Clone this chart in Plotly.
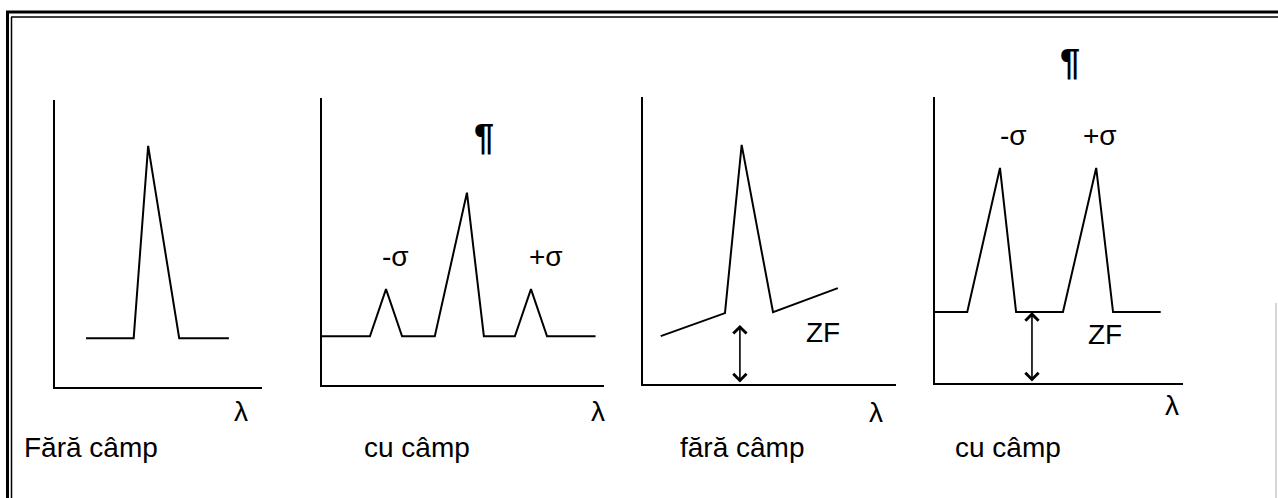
import plotly.graph_objects as go

W, H = 1278, 498
FONT = "Liberation Sans, Arial, sans-serif"
FS = 28

# --- spectral profiles (lambda in %, intensity in %) ---
p1_lambda = [15, 38, 45, 60, 84]
p1_intensity = [17, 17, 84, 17, 17]

p2_lambda = [0, 17, 22.7, 28.4, 40, 51.4, 57.4, 68.4, 74.1, 79.8, 97]
p2_intensity = [17, 17, 33.4, 17, 17, 67, 17, 17, 33.4, 17, 17]

p3_lambda = [7, 32.4, 39, 51.4, 77]
p3_intensity = [16.7, 24.7, 83.3, 25, 33.4]

p4_lambda = [0, 13, 26.2, 32.7, 51.6, 65, 71.8, 91]
p4_intensity = [24.8, 24.8, 75.2, 24.8, 24.8, 75.2, 24.8, 24.8]

# zero-field offset arrows: (lambda, top intensity)
zf3 = (38.3, 20.6)
zf4 = (39.1, 24.8)

panel_titles = ["Fără câmp", "cu câmp", "fără câmp", "cu câmp"]

# panel frames in pixels: (x_left, x_right, y_bottom, y_top)
frames = [
    (55, 262, 387, 100),
    (322, 604, 385, 98),
    (643, 896, 384, 97),
    (935, 1183, 383, 97),
]


def px_x(px):
    return px / W


def px_y(py):
    return 1 - py / H


def to_paper(idx, lam, inten):
    """Map a (lambda, intensity) pair of panel idx to paper coordinates."""
    xl, xr, yb, yt = frames[idx - 1]
    return (px_x(xl + (xr - xl) * lam / 100.0),
            px_y(yb - (yb - yt) * inten / 100.0))


fig = go.Figure()

profiles = [(p1_lambda, p1_intensity), (p2_lambda, p2_intensity),
            (p3_lambda, p3_intensity), (p4_lambda, p4_intensity)]

for i, ((lam, inten), (xl, xr, yb, yt)) in enumerate(zip(profiles, frames), start=1):
    sfx = "" if i == 1 else str(i)
    fig.add_trace(go.Scatter(
        x=lam, y=inten, mode="lines",
        line=dict(color="black", width=2),
        xaxis="x" + sfx, yaxis="y" + sfx,
        showlegend=False, hoverinfo="skip",
    ))
    axis_style = dict(showline=True, linecolor="black", linewidth=2,
                      showgrid=False, zeroline=False, showticklabels=False,
                      ticks="", range=[0, 100], fixedrange=True)
    fig.update_layout(**{
        "xaxis" + sfx: dict(axis_style, domain=[px_x(xl), px_x(xr)],
                            anchor="y" + sfx),
        "yaxis" + sfx: dict(axis_style, domain=[px_y(yb), px_y(yt)],
                            anchor="x" + sfx),
    })

annotations = []


def label(text, lam, inten, idx, size=FS, bold=False):
    x, y = to_paper(idx, lam, inten)
    annotations.append(dict(
        text="<b>%s</b>" % text if bold else text,
        x=x, y=y, xref="paper", yref="paper",
        showarrow=False, xanchor="center", yanchor="middle",
        font=dict(family=FONT, size=size, color="black"),
    ))


# wavelength symbol under each axis
lambda_pos = [(89.9, -8.7), (97.9, -9.4), (92.1, -9.8), (95.6, -8.0)]
for i, (lx, ly) in enumerate(lambda_pos, start=1):
    label("λ", lx, ly, i)

# component labels
label("¶", 57.4, 86.1, 2, 36, bold=True)
label("-σ", 25.9, 44.6, 2)
label("+σ", 79.4, 44.6, 2)
label("ZF", 71.1, 17.8, 3)
label("¶", 54.4, 111.9, 4, 36, bold=True)
label("-σ", 31.5, 86.4, 4)
label("+σ", 66.5, 86.7, 4)
label("ZF", 68.5, 16.8, 4)

# double-headed arrows for the zero-field offset
for (lam, top), idx in ((zf3, 3), (zf4, 4)):
    annotations.append(dict(
        x=lam, y=top, ax=lam, ay=0,
        xref="x%d" % idx, yref="y%d" % idx,
        axref="x%d" % idx, ayref="y%d" % idx,
        text="", showarrow=True, arrowside="end+start",
        arrowhead=4, arrowsize=1.6, arrowwidth=1.6,
        arrowcolor="black", standoff=0, startstandoff=0,
    ))

# captions under the panels
title_pos = [(91, 447), (417, 447), (742, 447), (1008, 447)]
for t, (tx, ty) in zip(panel_titles, title_pos):
    annotations.append(dict(
        text=t, x=px_x(tx), y=px_y(ty), xref="paper", yref="paper",
        showarrow=False, xanchor="center", yanchor="middle",
        font=dict(family=FONT, size=FS, color="black"),
    ))

# double-line border around the figure
border = [
    (6, 12, 1278, 12, 3, "black"),
    (11, 17, 1278, 17, 1.5, "black"),
    (7.5, 11, 7.5, 498, 3, "black"),
    (11.5, 17, 11.5, 498, 1.5, "black"),
    (1276, 303, 1276, 498, 1, "#b0b0b0"),
]
shapes = [dict(type="line", xref="paper", yref="paper",
               x0=px_x(a), y0=px_y(b), x1=px_x(c), y1=px_y(d),
               line=dict(color=col, width=w))
          for a, b, c, d, w, col in border]

fig.update_layout(
    width=W, height=H,
    margin=dict(l=0, r=0, t=0, b=0),
    paper_bgcolor="white", plot_bgcolor="rgba(0,0,0,0)",
    annotations=annotations, shapes=shapes,
    showlegend=False,
)

fig.write_html("out.html", config={"displayModeBar": False})
